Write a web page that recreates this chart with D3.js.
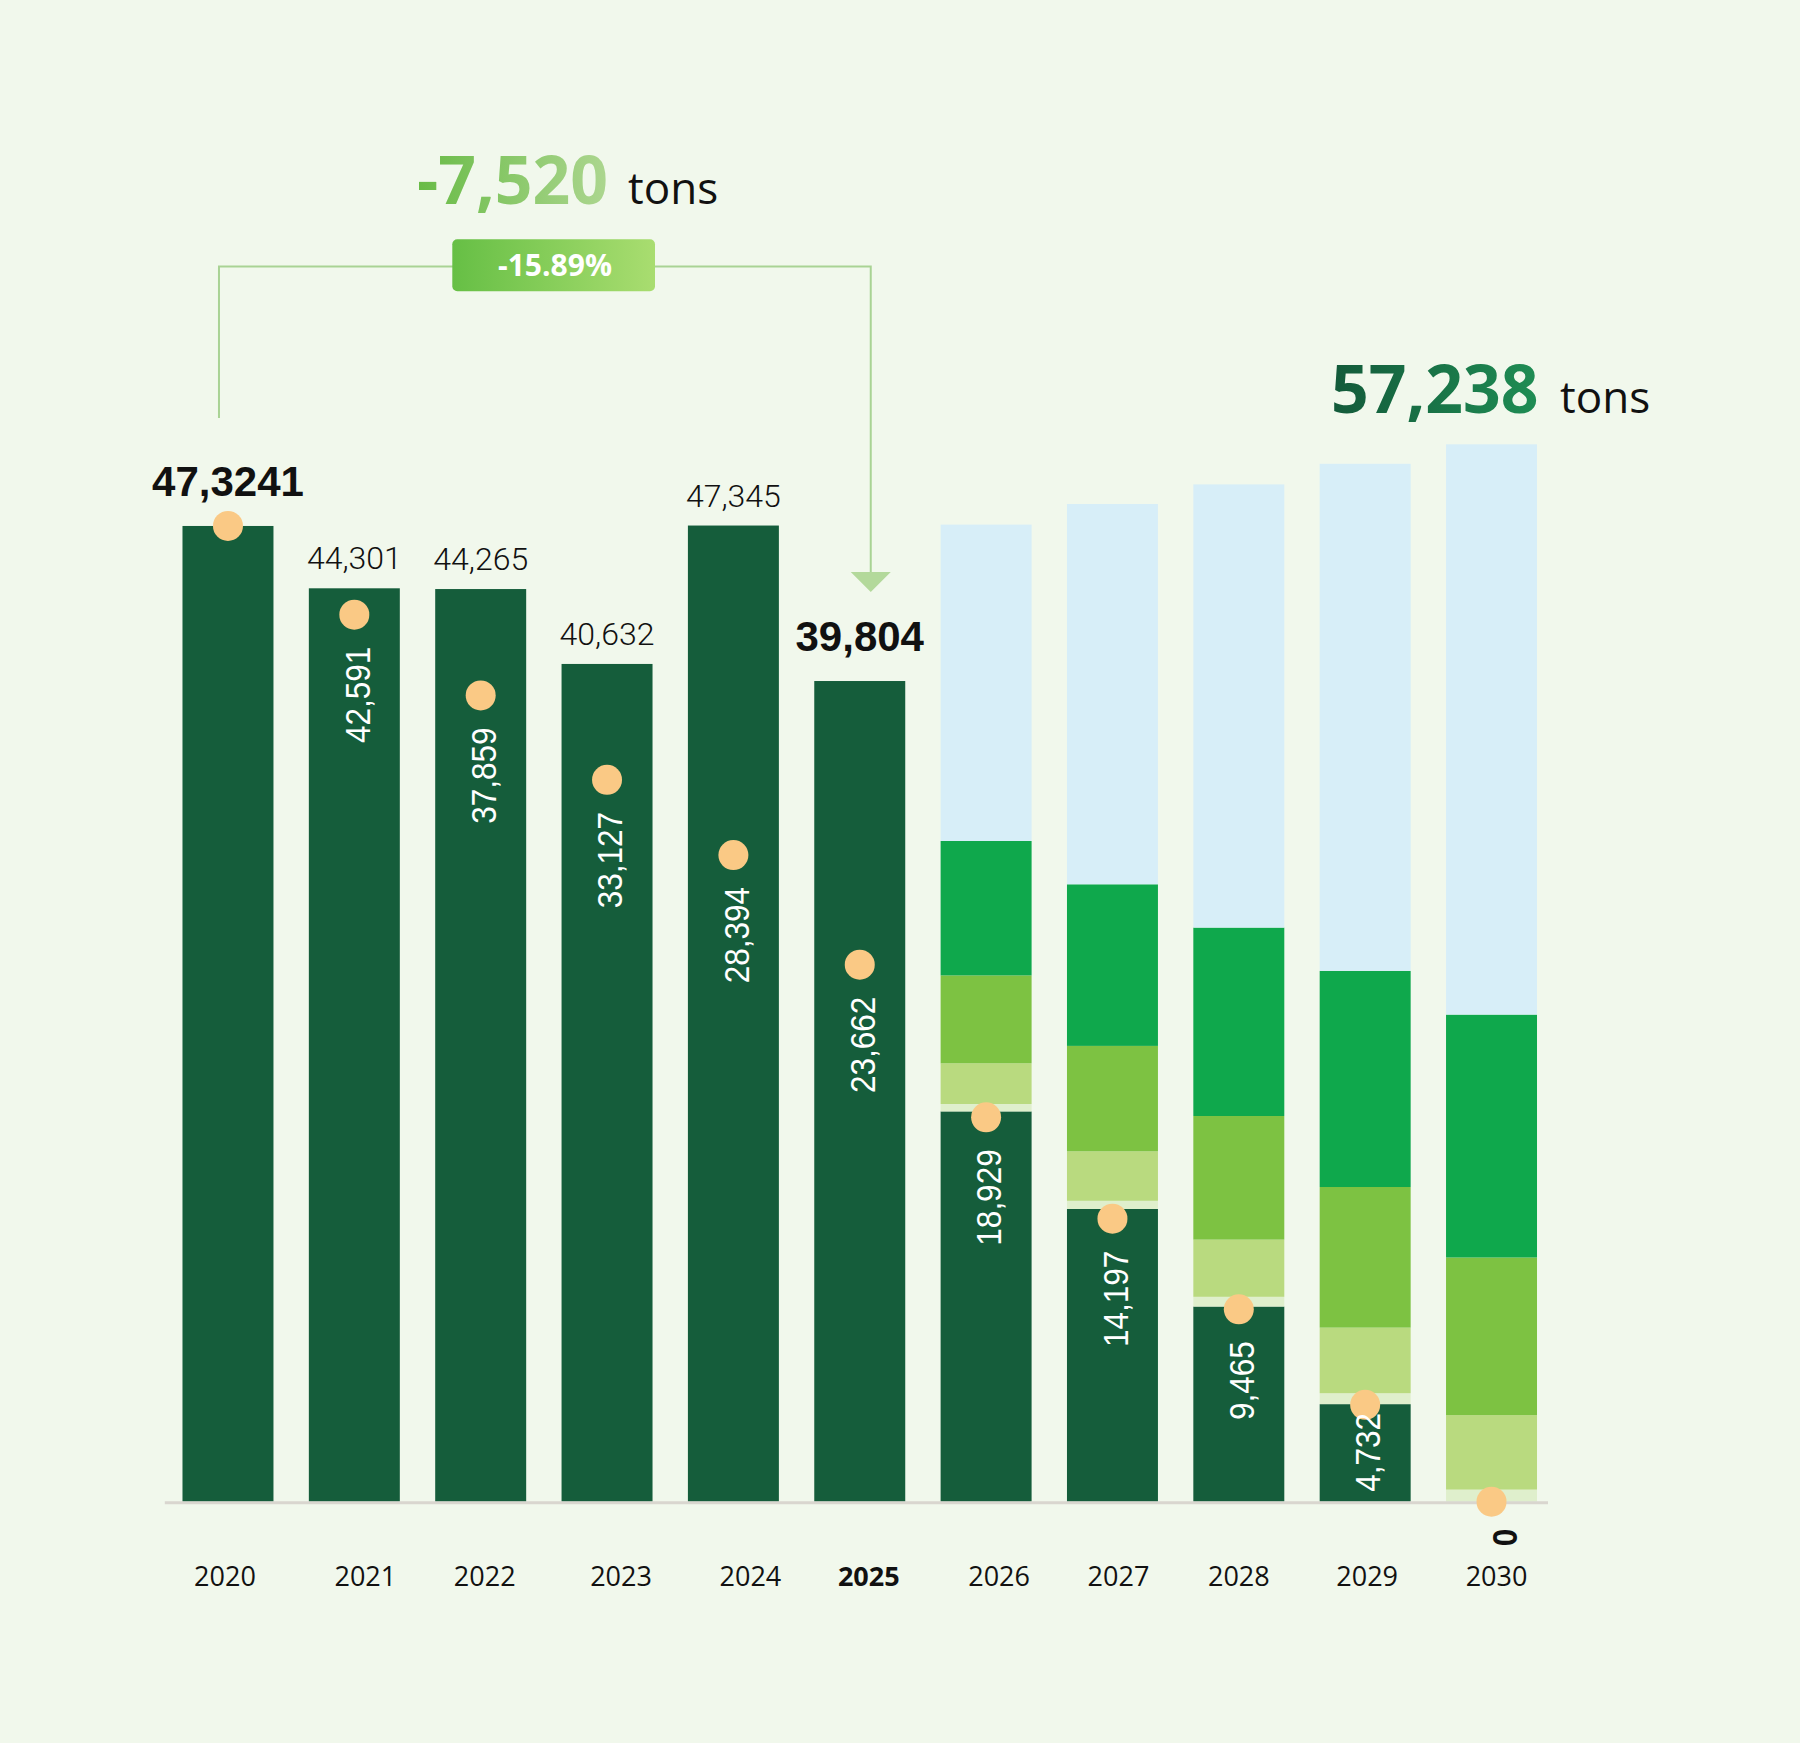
<!doctype html>
<html>
<head>
<meta charset="utf-8">
<script src="https://cdn.jsdelivr.net/npm/d3@7/dist/d3.min.js"></script>
<style>
body { margin: 0; background: #f1f8ec; }
svg { display: block; }
</style>
</head>
<body>
<script>

// ---- data ----
var years = ["2020","2021","2022","2023","2024","2025","2026","2027","2028","2029","2030"];
var emissions = [47324, 44301, 44265, 40632, 47345, 39804, 18929, 14197, 9465, 4732, 0];
var topLabels = ["47,3241","44,301","44,265","40,632","47,345","39,804","","","","",""];
var bufferVals = [0, 0, 0, 0, 0, 0, 360, 397, 473, 530, 587];
var lightVals  = [0, 0, 0, 0, 0, 0, 1974, 2401, 2774, 3182, 3613];
var midVals    = [0, 0, 0, 0, 0, 0, 4263, 5112, 5995, 6819, 7644];
var brightVals = [0, 0, 0, 0, 0, 0, 6519, 7838, 9138, 10482, 11781];
var skyVals    = [0, 0, 0, 0, 0, 0, 15346, 18445, 21495, 24595, 27660];
var targetDots = [47324, 43021, 39103, 35010, 31363, 26047, 18642, 13725, 9331, 4699, 0];
var targetLabels = ["", "42,591","37,859","33,127","28,394","23,662","18,929","14,197","9,465","4,732","0"];
var boldTop = ["2020", "2025"];
var boldYear = "2025";

var keys = ["emissions","buffer","light","mid","bright","sky"];
var colors = {emissions: "#155d3b", buffer: "#dfefcc", light: "#b9da7f", mid: "#7dc242", bright: "#0fa84c", sky: "#d7eef8"};

var rows = years.map((y, i) => ({
  year: y, emissions: emissions[i], buffer: bufferVals[i], light: lightVals[i],
  mid: midVals[i], bright: brightVals[i], sky: skyVals[i]
}));

var W = 1800, H = 1743;
var svg = d3.select("body").append("svg").attr("width", W).attr("height", H);

var defs = svg.append("defs");
function grad(id, x1, x2, c1, c2) {
  var g = defs.append("linearGradient").attr("id", id)
    .attr("gradientUnits", "userSpaceOnUse")
    .attr("x1", x1).attr("x2", x2).attr("y1", 0).attr("y2", 0);
  g.append("stop").attr("offset", 0).attr("stop-color", c1);
  g.append("stop").attr("offset", 1).attr("stop-color", c2);
}
grad("gDrop", 417, 607, "#68bb46", "#acd68f");
grad("gBadge", 452, 655, "#66bf45", "#a9dd70");
grad("gTotal", 1331, 1538, "#135a3a", "#1f8d54");

var x = d3.scaleBand().domain(years).range([164.8, 1554.7]).paddingInner(0.28).paddingOuter(0.14);
var y = d3.scaleLinear().domain([0, 50000]).range([1501.7, 470.8]);
var bw = x.bandwidth();
var cx = d => x(d) + bw / 2;
var axisY = y(0);

// ---- stacked bars ----
var series = d3.stack().keys(keys)(rows);
svg.append("g").selectAll("g").data(series).join("g")
  .attr("fill", d => colors[d.key])
  .selectAll("rect").data(d => d).join("rect")
  .attr("x", d => x(d.data.year))
  .attr("width", bw)
  .attr("y", d => y(d[1]))
  .attr("height", d => y(d[0]) - y(d[1]));

// ---- axis ----
svg.append("line")
  .attr("x1", x.range()[0]).attr("x2", x(years[years.length-1]) + bw + 11)
  .attr("y1", axisY + 1).attr("y2", axisY + 1)
  .attr("stroke", "#d9d6cf").attr("stroke-width", 3);

// the year labels in the original sit a little off the bar centres
var tickNudge = [-3, 11, 4, 14, 17, 9, 13, 6, 0, 2, 5];
var ax = svg.append("g")
  .attr("transform", "translate(0," + axisY + ")")
  .call(d3.axisBottom(x).tickSize(0).tickPadding(65));
ax.select(".domain").remove();
ax.selectAll("text")
  .attr("dx", (d, i) => tickNudge[i])
  .attr("font-family", "'Open Sans', sans-serif")
  .attr("font-size", 27)
  .attr("fill", "#111")
  .attr("font-weight", d => d == boldYear ? 700 : 400);

// ---- values on top of the bars ----
svg.append("g").selectAll("text").data(rows.filter((r, i) => topLabels[i])).join("text")
  .attr("x", d => cx(d.year))
  .attr("y", d => y(d.emissions) - (boldTop.includes(d.year) ? 30 : 19))
  .attr("text-anchor", "middle")
  .attr("font-family", d => boldTop.includes(d.year) ? "'Liberation Sans', Arial, sans-serif" : "Roboto, 'Liberation Sans', sans-serif")
  .attr("font-weight", d => boldTop.includes(d.year) ? 700 : 300)
  .attr("font-size", d => boldTop.includes(d.year) ? 42 : 32)
  .attr("fill", "#111")
  .text(d => topLabels[years.indexOf(d.year)]);

// ---- target dots ----
svg.append("g").selectAll("circle").data(years).join("circle")
  .attr("cx", d => cx(d))
  .attr("cy", (d, i) => y(targetDots[i]))
  .attr("r", 15)
  .attr("fill", "#fac985");

// ---- rotated target labels ----
var sx = 0.9;
var lab = svg.append("g");
years.forEach((yr, i) => {
  if (!targetLabels[i]) return;
  var inside = emissions[i] > 0;
  var t = lab.append("text")
    .attr("text-anchor", "end")
    .attr("dy", "0.35em")
    .attr("font-family", "'Liberation Sans', Arial, sans-serif")
    .attr("font-size", 35)
    .attr("font-weight", inside ? 400 : 700)
    .attr("fill", inside ? "#ffffff" : "#111")
    .text(targetLabels[i]);
  var len = t.node().getComputedTextLength() * sx;
  var top = y(targetDots[i]) + (inside ? 32 : 27);
  if (inside) top = Math.min(top, axisY - 10 - len);
  var lx = cx(yr) + (inside ? 3 : 13);
  t.attr("transform", "translate(" + lx + "," + top + ") rotate(-90) scale(" + sx + ",1)");
});

// ---- bracket 2020 -> 2025 ----
var bl = cx("2020") - 9, br = cx("2025") + 11;
svg.append("path")
  .attr("d", "M" + bl + "," + (y(emissions[0]) - 108) + " V266.5 H" + br + " V" + (y(emissions[5]) - 109))
  .attr("fill", "none").attr("stroke", "#a9d394").attr("stroke-width", 2);
svg.append("path")
  .attr("d", "M" + (br - 20) + "," + (y(emissions[5]) - 109) + " h40 l-20,20 z")
  .attr("fill", "#b3d99b");

svg.append("rect")
  .attr("x", 452.3).attr("y", 239.3).attr("width", 202.7).attr("height", 52).attr("rx", 5)
  .attr("fill", "url(#gBadge)");
svg.append("text")
  .attr("x", 555).attr("y", 276).attr("text-anchor", "middle")
  .attr("font-family", "'Open Sans', sans-serif").attr("font-weight", 700).attr("font-size", 30)
  .attr("fill", "#fff").text("-15.89%");

svg.append("text")
  .attr("x", 417).attr("y", 204)
  .attr("font-family", "'Open Sans', sans-serif").attr("font-weight", 700).attr("font-size", 66)
  .attr("fill", "url(#gDrop)").text("-7,520");
svg.append("text")
  .attr("x", 628).attr("y", 204)
  .attr("font-family", "'Open Sans', sans-serif").attr("font-size", 44)
  .attr("fill", "#111").text("tons");

svg.append("text")
  .attr("x", 1331).attr("y", 412.5)
  .attr("font-family", "'Open Sans', sans-serif").attr("font-weight", 700).attr("font-size", 66)
  .attr("fill", "url(#gTotal)").text("57,238");
svg.append("text")
  .attr("x", 1560).attr("y", 412.5)
  .attr("font-family", "'Open Sans', sans-serif").attr("font-size", 44)
  .attr("fill", "#111").text("tons");

</script>
</body>
</html>
